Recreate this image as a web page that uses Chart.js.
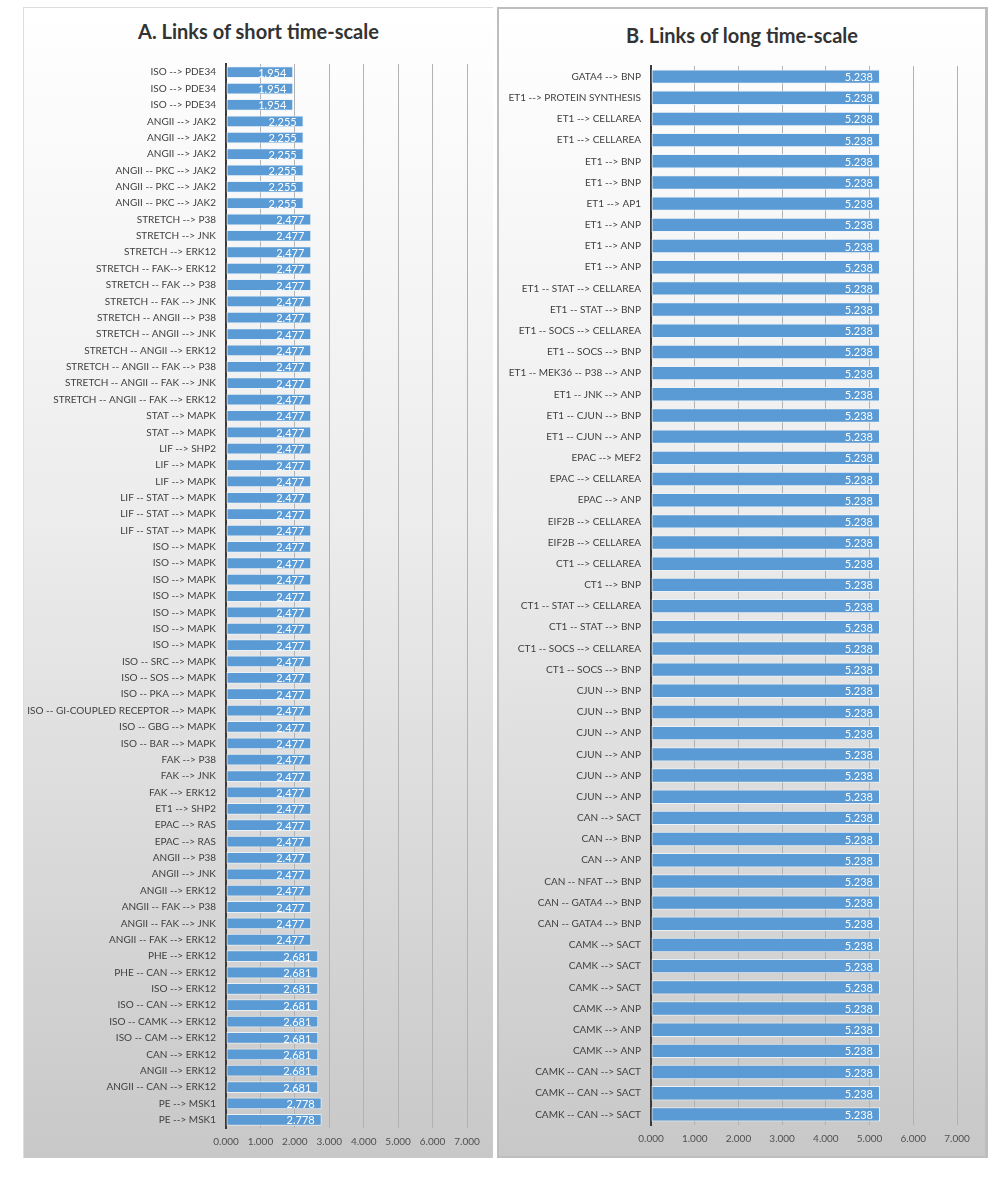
<!DOCTYPE html>
<html lang="en">
<head>
<meta charset="UTF-8">
<title>Links of short and long time-scale</title>
<script src="https://cdn.jsdelivr.net/npm/chart.js"></script>
<style>
  body { margin: 0; background: #fff; width: 1005px; height: 1181px; position: relative; font-family: Lato, sans-serif; }
  .panel { position: absolute; top: 7px; height: 1151px; box-sizing: border-box;
           background: linear-gradient(to bottom, #ffffff 0%, #ececec 45%, #c8c8c8 100%); }
  #panelA { left: 23px; width: 470px; border-top: 1px solid #ddd; border-left: 1px solid #ddd; }
  #panelB { left: 497px; width: 491px; border: 2px solid #bdbdbd; border-right-width: 3px; }
  .title { position: absolute; left: 0; right: 0; text-align: center; font-weight: bold; font-size: 20px; color: #333; }
  canvas { position: absolute; left: 0; top: 0; }
</style>
</head>
<body>
<div class="panel" id="panelA">
  <div class="title" style="top:11px">A. Links of short time-scale</div>
  <canvas id="chartA" width="469" height="1150"></canvas>
</div>
<div class="panel" id="panelB">
  <div class="title" style="top:14px">B. Links of long time-scale</div>
  <canvas id="chartB" width="486" height="1147"></canvas>
</div>

<script>
// Panel A - links of short time-scale
const labelsA = [
  'ISO --> PDE34', 'ISO --> PDE34', 'ISO --> PDE34',
  'ANGII --> JAK2', 'ANGII --> JAK2', 'ANGII --> JAK2',
  'ANGII -- PKC --> JAK2', 'ANGII -- PKC --> JAK2', 'ANGII -- PKC --> JAK2',
  'STRETCH --> P38', 'STRETCH --> JNK', 'STRETCH --> ERK12',
  'STRETCH -- FAK--> ERK12', 'STRETCH -- FAK --> P38', 'STRETCH -- FAK --> JNK',
  'STRETCH -- ANGII --> P38', 'STRETCH -- ANGII --> JNK', 'STRETCH -- ANGII --> ERK12',
  'STRETCH -- ANGII -- FAK --> P38', 'STRETCH -- ANGII -- FAK --> JNK', 'STRETCH -- ANGII -- FAK --> ERK12',
  'STAT --> MAPK', 'STAT --> MAPK',
  'LIF --> SHP2', 'LIF --> MAPK', 'LIF --> MAPK',
  'LIF -- STAT --> MAPK', 'LIF -- STAT --> MAPK', 'LIF -- STAT --> MAPK',
  'ISO --> MAPK', 'ISO --> MAPK', 'ISO --> MAPK', 'ISO --> MAPK', 'ISO --> MAPK', 'ISO --> MAPK', 'ISO --> MAPK',
  'ISO -- SRC --> MAPK', 'ISO -- SOS --> MAPK', 'ISO -- PKA --> MAPK',
  'ISO -- GI-COUPLED RECEPTOR --> MAPK', 'ISO -- GBG --> MAPK', 'ISO -- BAR --> MAPK',
  'FAK --> P38', 'FAK --> JNK', 'FAK --> ERK12',
  'ET1 --> SHP2', 'EPAC --> RAS', 'EPAC --> RAS',
  'ANGII --> P38', 'ANGII --> JNK', 'ANGII --> ERK12',
  'ANGII -- FAK --> P38', 'ANGII -- FAK --> JNK', 'ANGII -- FAK --> ERK12',
  'PHE --> ERK12', 'PHE -- CAN --> ERK12', 'ISO --> ERK12', 'ISO -- CAN --> ERK12',
  'ISO -- CAMK --> ERK12', 'ISO -- CAM --> ERK12', 'CAN --> ERK12', 'ANGII --> ERK12',
  'ANGII -- CAN --> ERK12',
  'PE --> MSK1', 'PE --> MSK1'
];
const valuesA = [
  1.954, 1.954, 1.954,
  2.255, 2.255, 2.255, 2.255, 2.255, 2.255,
  2.477, 2.477, 2.477, 2.477, 2.477, 2.477, 2.477, 2.477, 2.477,
  2.477, 2.477, 2.477, 2.477, 2.477, 2.477, 2.477, 2.477, 2.477,
  2.477, 2.477, 2.477, 2.477, 2.477, 2.477, 2.477, 2.477, 2.477,
  2.477, 2.477, 2.477, 2.477, 2.477, 2.477, 2.477, 2.477, 2.477,
  2.477, 2.477, 2.477, 2.477, 2.477, 2.477, 2.477, 2.477, 2.477,
  2.681, 2.681, 2.681, 2.681, 2.681, 2.681, 2.681, 2.681, 2.681,
  2.778, 2.778
];

// Panel B - links of long time-scale
const labelsB = [
  'GATA4 --> BNP', 'ET1 --> PROTEIN SYNTHESIS', 'ET1 --> CELLAREA', 'ET1 --> CELLAREA',
  'ET1 --> BNP', 'ET1 --> BNP', 'ET1 --> AP1', 'ET1 --> ANP', 'ET1 --> ANP', 'ET1 --> ANP',
  'ET1 -- STAT --> CELLAREA', 'ET1 -- STAT --> BNP', 'ET1 -- SOCS --> CELLAREA', 'ET1 -- SOCS --> BNP',
  'ET1 -- MEK36 -- P38 --> ANP', 'ET1 -- JNK --> ANP', 'ET1 -- CJUN --> BNP', 'ET1 -- CJUN --> ANP',
  'EPAC --> MEF2', 'EPAC --> CELLAREA', 'EPAC --> ANP',
  'EIF2B --> CELLAREA', 'EIF2B --> CELLAREA',
  'CT1 --> CELLAREA', 'CT1 --> BNP', 'CT1 -- STAT --> CELLAREA', 'CT1 -- STAT --> BNP',
  'CT1 -- SOCS --> CELLAREA', 'CT1 -- SOCS --> BNP',
  'CJUN --> BNP', 'CJUN --> BNP', 'CJUN --> ANP', 'CJUN --> ANP', 'CJUN --> ANP', 'CJUN --> ANP',
  'CAN --> SACT', 'CAN --> BNP', 'CAN --> ANP', 'CAN -- NFAT --> BNP',
  'CAN -- GATA4 --> BNP', 'CAN -- GATA4 --> BNP',
  'CAMK --> SACT', 'CAMK --> SACT', 'CAMK --> SACT', 'CAMK --> ANP', 'CAMK --> ANP', 'CAMK --> ANP',
  'CAMK -- CAN --> SACT', 'CAMK -- CAN --> SACT', 'CAMK -- CAN --> SACT'
];
const valuesB = [
  5.238, 5.238, 5.238, 5.238, 5.238, 5.238, 5.238, 5.238, 5.238, 5.238,
  5.238, 5.238, 5.238, 5.238, 5.238, 5.238, 5.238, 5.238, 5.238, 5.238,
  5.238, 5.238, 5.238, 5.238, 5.238, 5.238, 5.238, 5.238, 5.238, 5.238,
  5.238, 5.238, 5.238, 5.238, 5.238, 5.238, 5.238, 5.238, 5.238, 5.238,
  5.238, 5.238, 5.238, 5.238, 5.238, 5.238, 5.238, 5.238, 5.238, 5.238
];

// x axis: 0.000 ... 7.000
const xMin = 0, xMax = 7, xStep = 1;

// white value labels at the inside end of each bar
const barValueLabels = {
  id: 'barValueLabels',
  afterDatasetsDraw(chart, args, opts) {
    const ctx = chart.ctx;
    const meta = chart.getDatasetMeta(0);
    const data = chart.data.datasets[0].data;
    ctx.save();
    ctx.font = opts.font;
    ctx.fillStyle = '#ffffff';
    ctx.textAlign = 'right';
    ctx.textBaseline = 'middle';
    meta.data.forEach((bar, i) => {
      ctx.fillText(data[i].toFixed(3), bar.x - opts.offset, bar.y + 1);
    });
    ctx.restore();
  }
};

function makeChart(id, labels, values, yWidth, pad, barPct, labelFont) {
  return new Chart(document.getElementById(id), {
    type: 'bar',
    data: {
      labels: labels,
      datasets: [{
        data: values,
        backgroundColor: 'rgb(91, 155, 213)',
        borderColor: 'rgba(235, 243, 250, 0.9)',
        borderWidth: 1,
        borderSkipped: false,
        barPercentage: barPct,
        categoryPercentage: 1.0
      }]
    },
    options: {
      indexAxis: 'y',
      responsive: false,
      animation: false,
      devicePixelRatio: 1,
      layout: { padding: pad },
      plugins: {
        legend: { display: false },
        tooltip: { enabled: false },
        barValueLabels: { font: '11px Lato', offset: 7 }
      },
      scales: {
        x: {
          min: xMin, max: xMax,
          ticks: {
            stepSize: xStep,
            color: '#505050',
            font: { family: 'Lato', size: 10 },
            padding: 8,
            callback: v => Number(v).toFixed(3)
          },
          grid: { color: '#b2b2b2', lineWidth: 1, drawTicks: false },
          border: { display: false },
          afterFit(scale) { scale.height = 30; }
        },
        y: {
          ticks: {
            color: '#404040',
            font: labelFont,
            padding: 10,
            autoSkip: false
          },
          grid: { display: false, drawTicks: false },
          border: { display: true, color: '#3a3a3a', width: 2 },
          afterFit(scale) { scale.width = yWidth; }
        }
      }
    },
    plugins: [barValueLabels]
  });
}

makeChart('chartA', labelsA, valuesA, 202,
  { top: 56, right: 26, bottom: 0, left: 0 }, 0.72, { family: 'Lato', size: 10 });
makeChart('chartB', labelsB, valuesB, 152,
  { top: 57, right: 28, bottom: 1, left: 0 }, 0.68, { family: 'Lato', size: 10 });
</script>
</body>
</html>
